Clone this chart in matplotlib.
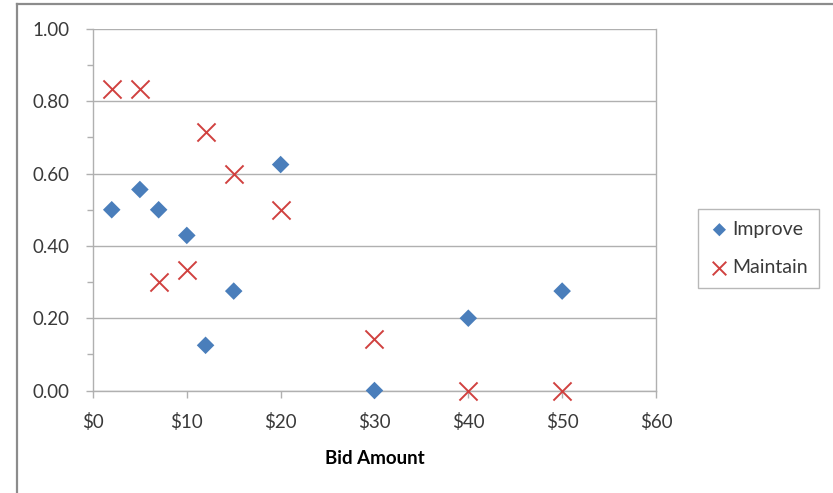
import matplotlib.pyplot as plt
from matplotlib.lines import Line2D
from matplotlib.ticker import MultipleLocator, FuncFormatter

plt.rcParams["font.family"] = ["Lato", "DejaVu Sans"]

# bid amounts ($) and share of responses for each outcome
bids = [2, 5, 7, 10, 12, 15, 20, 30, 40, 50]
improve = [0.50, 0.556, 0.50, 0.429, 0.125, 0.275, 0.625, 0.0, 0.20, 0.275]
maintain = [0.833, 0.833, 0.30, 0.333, 0.714, 0.60, 0.50, 0.143, 0.0, 0.0]

x_ticks = [0, 10, 20, 30, 40, 50, 60]
y_ticks = [0.0, 0.2, 0.4, 0.6, 0.8, 1.0]

blue = "#4a7ebb"
red = "#d0413f"
text_col = "#3a3a3a"
axis_col = "#b0b0b0"

fig = plt.figure(figsize=(8.33, 4.93), dpi=100)
ax = fig.add_axes([0.1116, 0.2079, 0.6759, 0.7333])

# chart frame: only the top and left edges fall inside the image
fig.add_artist(Line2D([17 / 833, 1.0], [1 - 4 / 493, 1 - 4 / 493],
                      color="#8c8c8c", linewidth=1.6, transform=fig.transFigure))
fig.add_artist(Line2D([17 / 833, 17 / 833], [0.0, 1 - 4 / 493],
                      color="#8c8c8c", linewidth=1.6, transform=fig.transFigure))

ax.scatter(bids, improve, marker="D", s=80, color=blue, edgecolors="none",
           label="Improve", zorder=3, clip_on=False)
ax.scatter(bids, maintain, marker="x", s=170, color=red, linewidths=1.4,
           label="Maintain", zorder=3, clip_on=False)

ax.set_xlim(0, 60)
ax.set_ylim(0, 1.0)
ax.set_xticks(x_ticks)
ax.set_yticks(y_ticks)
ax.yaxis.set_minor_locator(MultipleLocator(0.1))
ax.xaxis.set_major_formatter(FuncFormatter(lambda v, _: f"${v:.0f}"))
ax.yaxis.set_major_formatter(FuncFormatter(lambda v, _: f"{v:.2f}"))

ax.grid(axis="y", color=axis_col, linewidth=1.0)
ax.set_axisbelow(True)
for side in ["left", "bottom", "right"]:
    ax.spines[side].set_color(axis_col)
    ax.spines[side].set_linewidth(1.0)
ax.spines["top"].set_visible(False)

ax.tick_params(axis="both", which="both", direction="out", color=axis_col,
               labelcolor=text_col, labelsize=13.5)
ax.tick_params(axis="both", which="major", length=5, width=1)
ax.tick_params(axis="y", which="minor", length=4, width=1)
ax.tick_params(axis="y", pad=12)
ax.tick_params(axis="x", pad=11)

ax.set_xlabel("Bid Amount", fontsize=13.5, fontweight="bold", color="#000000",
              labelpad=14)

leg = ax.legend(loc="center left", bbox_to_anchor=(698 / 833, 1 - 248.5 / 493),
                bbox_transform=fig.transFigure, frameon=True, fancybox=False,
                shadow=False, fontsize=14, handletextpad=0.15,
                handlelength=1.0, borderpad=0.6, labelspacing=1.1,
                markerscale=0.75, borderaxespad=0)
leg.get_frame().set_edgecolor("#a6a6a6")
leg.get_frame().set_linewidth(1.0)
for t in leg.get_texts():
    t.set_color(text_col)

fig.savefig("out.png", dpi=100)
